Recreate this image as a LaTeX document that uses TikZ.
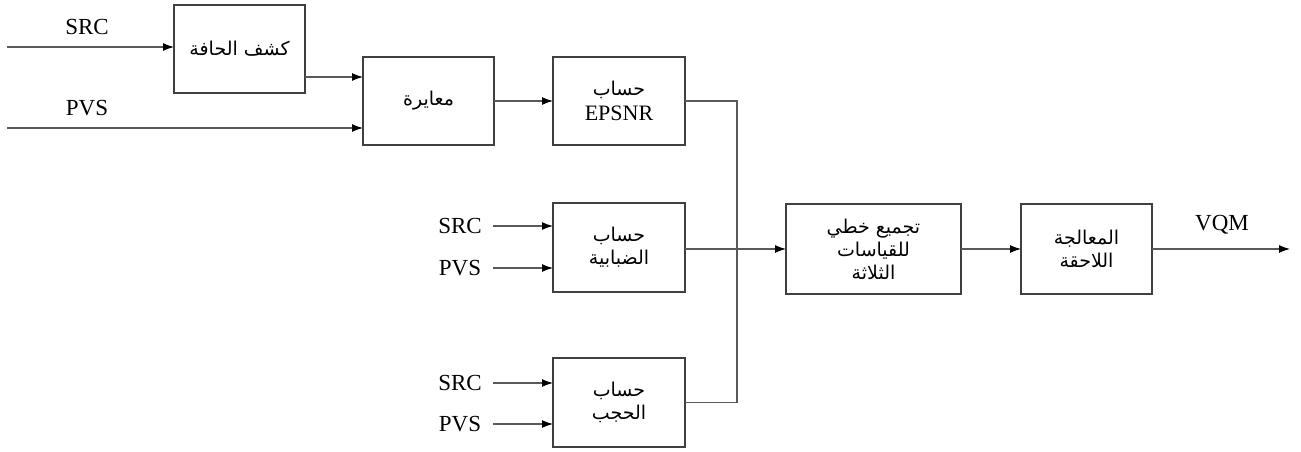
\documentclass[tikz,border=0pt]{standalone}
\usepackage{fontspec}
\setmainfont{Liberation Serif}
\newfontfamily\arabicfont[Script=Arabic]{DejaVu Sans}
\TeXXeTstate=1
\usetikzlibrary{arrows.meta}
% Arabic text, right to left
\newcommand{\ar}[1]{{\arabicfont\fontsize{19}{23}\selectfont\beginR #1\endR}}
\begin{document}
\begin{tikzpicture}[x=1pt,y=-1pt,
  block/.style={draw=black!75, line width=1.1pt, rectangle, inner sep=0pt, outer sep=0pt,
    align=center, font=\fontsize{22}{23}\selectfont},
  lbl/.style={inner sep=0pt, font=\fontsize{23}{26}\selectfont},
  wire/.style={draw=black!65, line width=1.1pt},
  flow/.style={wire, -{Latex[length=11pt,width=8pt,black]}}]
\useasboundingbox (0,0) rectangle (1301,451);

% processing blocks
\node[block, minimum width=131pt, minimum height=88pt] (edge)  at (239.5,49)  {\ar{كشف الحافة}};
\node[block, minimum width=131pt, minimum height=88pt] (cal)   at (428.5,101) {\ar{معايرة}};
\node[block, minimum width=132pt, minimum height=88pt] (epsnr) at (619,101)   {\ar{حساب}\\[2pt]EPSNR};
\node[block, minimum width=132pt, minimum height=89pt] (blur)  at (619,247.5) {\ar{حساب}\\\ar{الضبابية}};
\node[block, minimum width=132pt, minimum height=89pt] (blk)   at (619,402.5) {\ar{حساب}\\\ar{الحجب}};
\node[block, minimum width=175pt, minimum height=90pt] (agg)   at (873.5,249) {\ar{تجميع خطي}\\\ar{للقياسات}\\\ar{الثلاثة}};
\node[block, minimum width=131pt, minimum height=90pt] (post)  at (1086.5,249) {\ar{المعالجة}\\\ar{اللاحقة}};

% signal labels
\node[lbl] (lsrc1) at (87,27)   {SRC};
\node[lbl] (lpvs1) at (87,108)  {PVS};
\node[lbl] (lsrc2) at (460,226) {SRC};
\node[lbl] (lpvs2) at (460,268) {PVS};
\node[lbl] (lsrc3) at (460,383) {SRC};
\node[lbl] (lpvs3) at (460,424) {PVS};
\node[lbl] (lvqm)  at (1222,225) {VQM};

% free ends of the input and output lines
\coordinate (src1) at (7,47);
\coordinate (pvs1) at (7,128);
\coordinate (ein)  at (0,77);
\coordinate (src2) at (493,226);
\coordinate (pvs2) at (493,268);
\coordinate (src3) at (493,383);
\coordinate (pvs3) at (493,424);
\coordinate (bus)  at (737,249);
\coordinate (out)  at (1290,249);

% connections
\draw[flow] (src1) -- (src1 -| edge.west);
\draw[flow] (ein -| edge.east) -- (ein -| cal.west);
\draw[flow] (pvs1) -- (pvs1 -| cal.west);
\draw[flow] (cal.east) -- (epsnr.west);
\draw[flow] (src2) -- (src2 -| blur.west);
\draw[flow] (pvs2) -- (pvs2 -| blur.west);
\draw[flow] (src3) -- (src3 -| blk.west);
\draw[flow] (pvs3) -- (pvs3 -| blk.west);
\draw[wire] (epsnr.east) -| (bus) |- (blk.east);
\draw[flow] (agg.west -| blur.east) -- (agg.west);
\draw[flow] (agg.east) -- (post.west);
\draw[flow] (post.east) -- (out);
\end{tikzpicture}
\end{document}
